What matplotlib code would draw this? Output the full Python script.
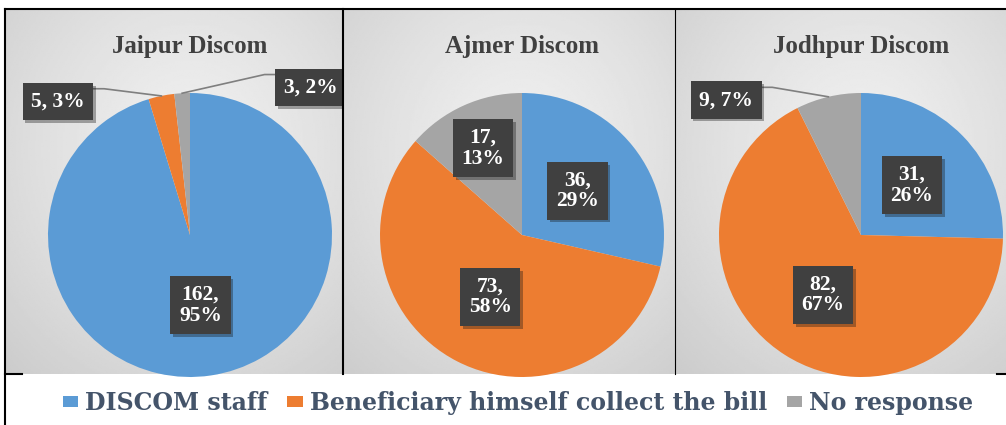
import numpy as np
import matplotlib.pyplot as plt
from matplotlib.patches import Patch
from matplotlib.lines import Line2D
import matplotlib.patheffects as pe

categories = ["DISCOM staff", "Beneficiary himself collect the bill", "No response"]
titles = ["Jaipur Discom", "Ajmer Discom", "Jodhpur Discom"]
values = [[162, 5, 3], [36, 73, 17], [31, 82, 9]]
percents = [[95, 3, 2], [29, 58, 13], [26, 67, 7]]
colors = ["#5B9BD5", "#ED7D31", "#A5A5A5"]

# label placement: ("in", radius fraction) or ("out", (x, y)) in radius units
label_place = [
    [("in", 0.5), ("out", (-0.93, 0.94)), ("out", (0.85, 1.04))],
    [("in", 0.5), ("in", 0.49), ("in", 0.67)],
    [("in", 0.5), ("in", 0.5), ("out", (-0.95, 0.95))],
]

W, H = 1006, 425
panels = [(5, 343, 190), (343, 675, 522), (675, 1006, 861)]  # left, right, pie centre x (px)
top, bottom, cy, R = 9, 374, 235, 142

plt.rcParams['font.family'] = 'serif'
plt.rcParams['font.serif'] = ['Liberation Serif', 'DejaVu Serif']
fig = plt.figure(figsize=(W / 100, H / 100), dpi=100)

for i, (l, r, cx) in enumerate(panels):
    ax = fig.add_axes([l / W, 1 - bottom / H, (r - l) / W, (bottom - top) / H])
    x0, x1 = (l - cx) / R, (r - cx) / R
    y0, y1 = (cy - bottom) / R, (cy - top) / R

    # soft radial background
    gx, gy = np.meshgrid(np.linspace(x0, x1, 200), np.linspace(y0, y1, 200))
    d = np.hypot(gx, (gy - 0.6) * 0.9)
    v = 0.94 - 0.14 * np.clip(d / 1.9, 0, 1) ** 1.3
    ax.imshow(v, extent=(x0, x1, y0, y1), origin='lower', cmap='gray',
              vmin=0, vmax=1, zorder=0, aspect='auto')

    vals = values[i]
    wedges, _ = ax.pie(vals, colors=colors, startangle=90, counterclock=False,
                       radius=1, wedgeprops=dict(linewidth=0))
    for w in wedges:
        w.set_zorder(2)

    total = sum(vals)
    start = 90.0
    for j, val in enumerate(vals):
        span = 360.0 * val / total
        mid = np.deg2rad(start - span / 2)
        start -= span
        mode, p = label_place[i][j]
        if mode == "in":
            tx, ty = p * np.cos(mid), p * np.sin(mid)
            txt = f"{val},\n{percents[i][j]}%"
        else:
            tx, ty = p
            txt = f"{val}, {percents[i][j]}%"
            ex, ey = np.cos(mid), np.sin(mid)
            side = 1 if tx < 0 else -1
            bx = tx + side * 0.245
            ax.plot([ex, bx + side * 0.08, bx], [ey, ty + 0.09, ty + 0.09],
                    color='#7F7F7F', lw=1.2, zorder=3)
        t = ax.text(tx, ty, txt, ha='center', va='center', color='white',
                    fontsize=15.5, fontweight='bold', linespacing=1.05, zorder=5,
                    bbox=dict(boxstyle='square,pad=0.4', fc='#404040', ec='none'))
        t.get_bbox_patch().set_path_effects([pe.withSimplePatchShadow(offset=(2, -2), alpha=0.35)])

    ax.text(0, (cy - 47) / R, titles[i], ha='center', va='center',
            fontsize=18, fontweight='bold', color='#404040', zorder=5)
    ax.set_xlim(x0, x1)
    ax.set_ylim(y0, y1)
    ax.set_aspect('auto')
    ax.axis('off')

# frame lines
def px_line(xs, ys, lw=1.5):
    fig.add_artist(Line2D([x / W for x in xs], [1 - y / H for y in ys], color='black', lw=lw))

px_line([5, 1006], [9, 9])
px_line([5, 5], [9, 425])
px_line([343, 343], [9, 374])
px_line([675, 675], [9, 374], lw=0.8)
px_line([5, 22], [374, 374])
px_line([997, 1006], [374, 374])

handles = [Patch(facecolor=c, edgecolor='none') for c in colors]
leg = fig.legend(handles, categories, loc='center', bbox_to_anchor=(0.515, 1 - 403 / H),
                 ncol=3, frameon=False, handlelength=0.65, handleheight=0.35,
                 handletextpad=0.3, columnspacing=0.85,
                 prop=dict(family='DejaVu Serif', weight='bold', size=17))
for t in leg.get_texts():
    t.set_color('#44546A')

fig.savefig('out.png', dpi=100)
